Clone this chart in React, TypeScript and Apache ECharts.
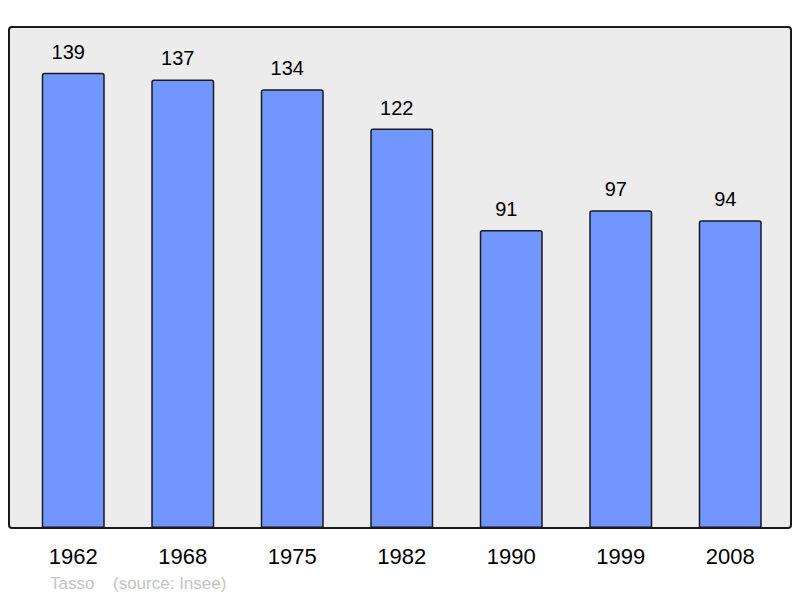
import { useEffect, useRef } from "react";
import * as echarts from "echarts";

const annees = ["1962", "1968", "1975", "1982", "1990", "1999", "2008"];
const habitants = [139, 137, 134, 122, 91, 97, 94];

export default function App(): JSX.Element {
  const chartRef = useRef<HTMLDivElement>(null);

  useEffect(() => {
    document.body.style.margin = "0";
    const myChart = echarts.init(chartRef.current, undefined, { renderer: "svg" });
    const option = {
      animation: false,
      textStyle: { fontFamily: "Liberation Sans" },
      grid: { left: 18.5, right: 15, top: 27, bottom: 70 },
      graphic: [
        {
          type: "rect",
          z: 0,
          shape: { x: 9, y: 27, width: 782, height: 501, r: 3 },
          style: { fill: "#ececec", stroke: "#1a1a1a", lineWidth: 2 },
        },
        {
          type: "text",
          left: 50,
          top: 575,
          style: { text: "Tasso", fill: "#c4c4c4", font: "17px 'Liberation Sans'" },
        },
        {
          type: "text",
          left: 113,
          top: 575,
          style: { text: "(source: Insee)", fill: "#c4c4c4", font: "17px 'Liberation Sans'" },
        },
      ],
      xAxis: {
        type: "category",
        data: annees,
        axisLine: { show: false },
        axisTick: { show: false },
        axisLabel: { color: "#000", fontSize: 22, margin: 17 },
      },
      yAxis: {
        type: "value",
        show: false,
        min: 0,
        max: 153,
        splitLine: { show: false },
      },
      series: [
        {
          type: "bar",
          data: habitants,
          barWidth: 63,
          itemStyle: {
            color: "#7196ff",
            borderColor: "#1a1a1a",
            borderWidth: 1.5,
            borderRadius: [2, 2, 0, 0],
          },
          label: {
            show: true,
            position: "top",
            distance: 11,
            offset: [-5, 0],
            color: "#000",
            fontSize: 20,
          },
        },
      ],
    };
    myChart.setOption(option);
    return () => {
      myChart.dispose();
    };
  }, []);

  return <div ref={chartRef} style={{ width: 800, height: 598 }}></div>;
}
